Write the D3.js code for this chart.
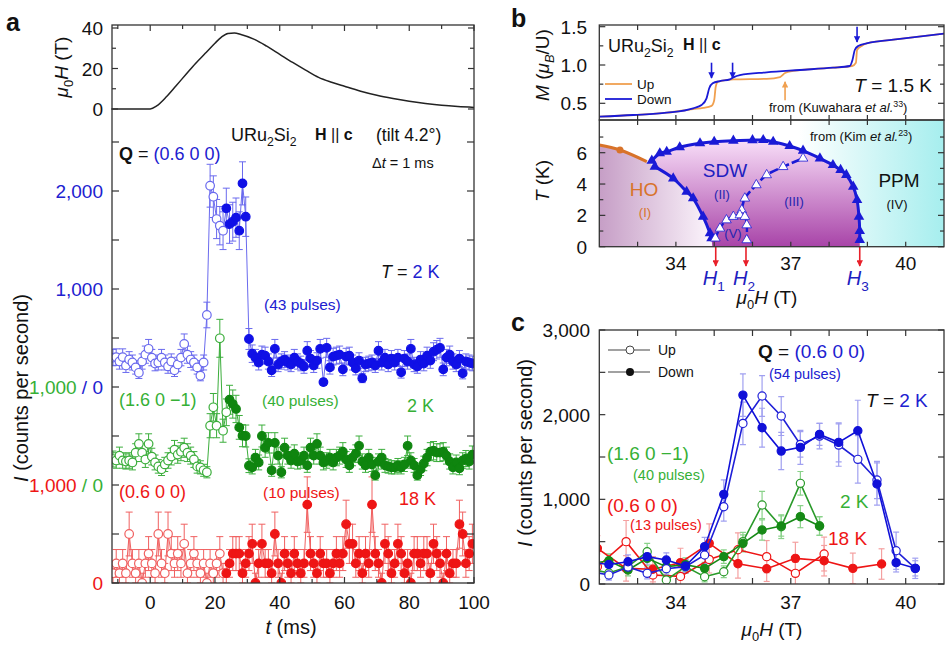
<!DOCTYPE html>
<html lang="en">
<head>
<meta charset="UTF-8" />
<title>URu2Si2 pulsed-field diffraction</title>
<script src="https://cdn.jsdelivr.net/npm/d3@7"></script>
<style>
  body { margin: 0; background: #fff; }
  svg { font-family: "Liberation Sans", Arial, Helvetica, sans-serif; }
</style>
</head>
<body>
<script>
// ---------- panel a : field pulse ----------
var pulseT = [-12, 0, 2, 5, 8, 11, 14, 17, 20, 22, 24, 26, 28, 32, 36, 40, 44, 48, 52, 56, 60, 65, 70, 75, 80, 85, 90, 95, 100];
var pulseH = [0, 0, 1.5, 6, 11.5, 17, 22.5, 27.5, 32.5, 35.5, 37.3, 37.5, 36.8, 34.5, 31, 27, 23, 19.2, 15.6, 13.2, 11.2, 8.8, 6.8, 5.2, 3.8, 2.7, 1.8, 1.2, 0.8];

// ---------- panel a : intensity per 1 ms bin, first bin centred at -11.5 ms ----------
var binStart = -11.5, binMs = 1;
var blueI = [
  300, 305, 260, 305, 220, 280, 250, 200, 145, 260,
  330, 390, 300, 240, 250, 300, 250, 210, 260, 170,
  230, 300, 440, 330, 280, 250, 200, 115, 250, 735,
  2054, 1942, 1714, 1646, 1595, 1823, 1663, 1687, 1728, 1595,
  2078, 1738, 490, 340, 300, 250, 330, 320, 260, 170,
  390, 230, 260, 280, 250, 230, 300, 260, 240, 210,
  370, 290, 220, 270, 390, 50, 400, 200, 310, 320,
  330, 180, 310, 320, 250, 190, 270, 90, 230, 240,
  250, 220, 370, 250, 300, 230, 290, 250, 300, 150,
  290, 260, 390, 230, 210, 280, 240, 320, 270, 360,
  380, 400, 180, 300, 330, 260, 230, 290, 140, 260,
  250, 240];
var greenI = [
  265, 250, 300, 250, 240, 250, 230, 330, 420, 330,
  260, 420, 290, 230, 190, 160, 210, 250, 290, 360,
  310, 340, 380, 330, 300, 260, 190, 180, 150, 130,
  605, 793, 605, 1497, 554, 742, 870, 826, 776, 588,
  503, 500, 197, 180, 280, 230, 500, 380, 430, 150,
  430, 300, 130, 380, 300, 250, 320, 240, 250, 300,
  200, 380, 300, 420, 300, 230, 250, 280, 230, 280,
  300, 340, 260, 200, 280, 320, 400, 240, 200, 280,
  210, 100, 240, 280, 200, 190, 180, 180, 200, 180,
  210, 400, 250, 200, 100, 160, 220, 280, 340, 350,
  330, 330, 340, 300, 240, 180, 230, 170, 250, 270,
  240, 310];
var redI = [
  100, 200, 100, 200, 100, 500, 200, 100, 200, 0,
  200, 300, 200, 100, 500, 200, 100, 500, 300, 200,
  300, 200, 400, 100, 200, 300, 200, 100, 200, 0,
  200, 100, 200, 300, 100, 100, 200, 300, 300, 300,
  100, 200, 300, 400, 0, 200, 400, 200, 200, 100,
  500, 200, 0, 300, 200, 100, 300, 200, 100, 200,
  800, 300, 200, 100, 300, 200, 200, 100, 200, 300,
  200, 300, 600, 400, 400, 200, 300, 100, 300, 200,
  800, 300, 200, 0, 400, 300, 100, 200, 400, 300,
  100, 200, 0, 300, 300, 200, 300, 300, 100, 400,
  300, 200, 0, 300, 100, 200, 200, 600, 500, 200,
  300, 400];
var pulsesA = {blue: 43, green: 40, red: 10};
var lastUpBin = {blue: 34, green: 35, red: 34};

// ---------- panel b : magnetization ----------
var mDownH = [32, 32.89, 33.76, 34.45, 34.67, 34.8, 34.87, 34.96, 35.15, 35.41, 35.5, 35.67, 36.37, 37.24, 38.1, 38.54, 38.61, 38.67, 38.76, 38.98, 39.85, 41.05];
var mDown = [0.325, 0.347, 0.377, 0.435, 0.478, 0.565, 0.696, 0.761, 0.79, 0.813, 0.839, 0.869, 0.904, 0.935, 0.965, 0.987, 1.065, 1.196, 1.248, 1.283, 1.34, 1.413];
var mUpH = [32, 32.89, 33.76, 34.45, 34.71, 34.93, 35.0, 35.04, 35.1, 35.5, 36.37, 36.72, 36.85, 37.06, 38.1, 38.6, 38.7, 38.73, 38.85, 38.98, 39.85, 41.05];
var mUp = [0.325, 0.347, 0.377, 0.425, 0.44, 0.466, 0.54, 0.717, 0.782, 0.812, 0.82, 0.843, 0.895, 0.922, 0.965, 0.987, 1.03, 1.196, 1.248, 1.283, 1.34, 1.413];
var downArrowH = [34.93, 35.48, 38.73];
var downArrowM = [[1.03, 0.83], [1.03, 0.83], [1.5, 1.3]];
var upArrowH = 36.85, upArrowM = [0.54, 0.78];

// ---------- panel b : phase diagram ----------
var hoH = [32, 32.54, 33.24], hoT = [6.49, 6.17, 5.43];
var domeTopH = [33.37, 33.58, 33.76, 34.1, 34.63, 35.0, 35.5, 36.0, 36.28, 36.54, 36.97, 37.32, 37.76, 38.1, 38.3, 38.45, 38.63, 38.73, 38.78, 38.8, 38.8];
var domeTopT = [5.49, 5.96, 6.06, 6.35, 6.6, 6.7, 6.77, 6.8, 6.81, 6.7, 6.43, 6.13, 5.64, 5.21, 4.9, 4.58, 3.83, 2.98, 1.92, 1.0, 0.43];
var domeLeftH = [33.45, 33.93, 34.28, 34.45, 34.71, 34.89, 34.93];
var domeLeftT = [5.11, 4.36, 3.51, 3.09, 1.92, 0.86, 0.54];
var innerH = [35.72, 35.8, 36.1, 36.37, 36.8, 37.32];
var innerT = [2.34, 3.09, 3.94, 4.58, 5.1, 5.64];
var vDomeH = [35.03, 35.15, 35.32, 35.5, 35.67, 35.8, 35.85, 35.85];
var vDomeT = [0.54, 1.17, 1.7, 1.92, 2.02, 1.92, 1.38, 0.43];
var critH = [35.04, 35.83, 38.8];

// ---------- panel c : intensity vs field ----------
var cBH = [31.75, 32.25, 32.75, 33.25, 33.75, 34.25, 34.75, 35.25, 35.75, 36.25, 36.75, 37.25, 37.75, 38.25, 38.75, 39.25, 39.75, 40.25];
var cBlueDown = [260, 230, 263, 323, 283, 212, 441, 1059, 2231, 1846, 1570, 1614, 1767, 1673, 1810, 1181, 252, 185];
var cBlueDownErr = [80, 75, 80, 90, 85, 75, 110, 170, 250, 230, 220, 200, 130, 230, 360, 250, 110, 90];
var cBlueUp = [150, 106, 200, 126, 180, 205, 342, 913, 1897, 2220, 1984, 1649, 1747, 1641, 1472, 1228, 393, 185];
var cBlueUpErr = [70, 60, 75, 65, 70, 75, 100, 170, 250, 240, 230, 150, 150, 250, 280, 220, 220, 120];
var cGH = [31.75, 32.25, 32.75, 33.25, 33.75, 34.25, 34.75, 35.25, 35.75, 36.25, 36.75, 37.25, 37.75];
var cGreenDown = [240, 275, 165, 303, 205, 228, 185, 323, 480, 638, 685, 795, 685];
var cGreenDownErr = [70, 80, 70, 90, 75, 80, 70, 80, 100, 120, 120, 130, 110];
var cGreenUp = [180, 130, 205, 381, 47, 205, 86, 145, 500, 933, 677, 1189, 685];
var cGreenUpErr = [70, 70, 80, 100, 50, 80, 60, 70, 110, 160, 140, 140, 110];
var cRH = [31.95, 32.7, 33.4, 34.12, 34.87, 35.62, 36.37, 37.12, 37.87, 38.62, 39.37];
var cRedDown = [421, 185, 174, 252, 480, 240, 180, 303, 275, 185, 236];
var cRedDownErr = [150, 150, 150, 170, 230, 170, 150, 190, 180, 180, 180];
var cRedUp = [205, 500, 106, 90, 290, 405, 323, 126, 354];
var cRedUpErr = [150, 250, 120, 120, 160, 200, 190, 130, 200];

// ---------- colours ----------
var cBlue = "#1010e6", cBlueLt = "#6a6aee", cBlueTxt = "#2020d0";
var cGreen = "#0f850f", cGreenLt = "#3cae3c", cGreenTxt = "#36b036";
var cRed = "#ee1515", cRedLt = "#f06060";
var cOrange = "#f0a050", cHO = "#d8732a";

var svg = d3.select("body").append("svg").attr("width", 946).attr("height", 645);
var defs = svg.append("defs");

// rich text helper: parts = [{t, c, i, b, sub, sup}]
function rich(g, x, y, parts, size, anchor) {
  var t = g.append("text").attr("x", x).attr("y", y).attr("font-size", size)
    .attr("text-anchor", anchor || "start").attr("fill", "#111");
  var shift = 0;
  parts.forEach(function (p) {
    var s = t.append("tspan").text(p.t);
    if (p.c) s.attr("fill", p.c);
    if (p.i) s.attr("font-style", "italic");
    if (p.b) s.attr("font-weight", "bold");
    var want = p.sub ? size * 0.28 : p.sup ? -size * 0.4 : 0;
    if (p.sub || p.sup) s.attr("font-size", size * 0.68);
    if (want !== shift) { s.attr("dy", want - shift); shift = want; }
  });
  return t;
}
function vlabel(x, y, parts, size) {
  var g = svg.append("g").attr("transform", "translate(" + x + "," + y + ") rotate(-90)");
  rich(g, 0, 0, parts, size, "middle");
}
function ticksX(scale, vals, y, len) {
  svg.append("g").selectAll("line").data(vals).enter().append("line")
    .attr("x1", function (d) { return scale(d); }).attr("x2", function (d) { return scale(d); })
    .attr("y1", y).attr("y2", y + len).attr("stroke", "#333").attr("stroke-width", 1.2);
}
function ticksY(scale, vals, x, len) {
  svg.append("g").selectAll("line").data(vals).enter().append("line")
    .attr("y1", function (d) { return scale(d); }).attr("y2", function (d) { return scale(d); })
    .attr("x1", x).attr("x2", x + len).attr("stroke", "#333").attr("stroke-width", 1.2);
}
function frame(x0, y0, x1, y1) {
  svg.append("rect").attr("x", x0).attr("y", y0).attr("width", x1 - x0).attr("height", y1 - y0)
    .attr("fill", "none").attr("stroke", "#333").attr("stroke-width", 1.3);
}
function clip(id, x0, y0, x1, y1) {
  defs.append("clipPath").attr("id", id).append("rect")
    .attr("x", x0).attr("y", y0).attr("width", x1 - x0).attr("height", y1 - y0);
}
function triangle(g, x, y, s, fill, stroke) {
  g.append("path").attr("d", d3.symbol().type(d3.symbolTriangle).size(s)())
    .attr("transform", "translate(" + x + "," + y + ")").attr("fill", fill)
    .attr("stroke", stroke || "none").attr("stroke-width", 0.8);
}

// =================== PANEL A ===================
var A = {l: 112, r: 474, t: 25, b: 583};
var xA = d3.scaleLinear().domain([-11.8, 100]).range([A.l, A.r]);
var yP = d3.scaleLinear().domain([0, 40]).range([109, 28]);
var yI = d3.scaleLinear().domain([0, 1000]).range([583, 485]);
clip("clipA", A.l, A.t, A.r, A.b);

svg.append("path").datum(d3.range(pulseT.length))
  .attr("d", d3.line().x(function (i) { return xA(pulseT[i]); }).y(function (i) { return yP(pulseH[i]); }).curve(d3.curveMonotoneX))
  .attr("fill", "none").attr("stroke", "#222").attr("stroke-width", 1.5);

var seriesA = [
  {vals: redI, off: 0, n: pulsesA.red, last: lastUpBin.red, fill: cRed, lt: cRedLt},
  {vals: greenI, off: 1000, n: pulsesA.green, last: lastUpBin.green, fill: cGreen, lt: cGreenLt},
  {vals: blueI, off: 2000, n: pulsesA.blue, last: lastUpBin.blue, fill: cBlue, lt: cBlueLt}
];
var gA = svg.append("g").attr("clip-path", "url(#clipA)");
seriesA.forEach(function (s) {
  // counting statistics: error = sqrt(counts) / (pulses * bin width)
  var expo = s.n * binMs / 1000;
  var pts = s.vals.map(function (v, i) {
    return {t: binStart + i * binMs, v: v + s.off, e: Math.sqrt(Math.max(v, 1 / expo) / expo), up: i <= s.last};
  });
  gA.append("path").datum(pts)
    .attr("d", d3.line().x(function (d) { return xA(d.t); }).y(function (d) { return yI(d.v); }))
    .attr("fill", "none").attr("stroke", s.lt).attr("stroke-width", 1);
  var eb = gA.append("g").attr("stroke", s.lt).attr("stroke-width", 1);
  pts.forEach(function (d) {
    var x = xA(d.t), y0 = yI(d.v - d.e), y1 = yI(d.v + d.e);
    eb.append("line").attr("x1", x).attr("x2", x).attr("y1", y0).attr("y2", y1);
    eb.append("line").attr("x1", x - 3.5).attr("x2", x + 3.5).attr("y1", y0).attr("y2", y0);
    eb.append("line").attr("x1", x - 3.5).attr("x2", x + 3.5).attr("y1", y1).attr("y2", y1);
  });
  gA.append("g").selectAll("circle").data(pts).enter().append("circle")
    .attr("cx", function (d) { return xA(d.t); }).attr("cy", function (d) { return yI(d.v); })
    .attr("r", 4.3)
    .attr("fill", function (d) { return d.up ? "#fff" : s.fill; })
    .attr("stroke", function (d) { return d.up ? s.lt : s.fill; })
    .attr("stroke-width", 1.2);
});

frame(A.l, A.t, A.r, A.b);
var tMaj = [0, 20, 40, 60, 80, 100], tMin = [-10, 10, 30, 50, 70, 90];
ticksX(xA, tMaj, A.b, -6); ticksX(xA, tMin, A.b, -4);
ticksX(xA, tMaj, A.t, 6); ticksX(xA, tMin, A.t, 4);
ticksY(yP, [0, 20, 40], A.l, 6); ticksY(yP, [10, 30], A.l, 4);
ticksY(yP, [0, 20, 40], A.r, -6); ticksY(yP, [10, 30], A.r, -4);
var cntTicks = d3.range(0, 4501, 500);
ticksY(yI, cntTicks, A.l, 7); ticksY(yI, cntTicks, A.r, -7);

svg.append("g").selectAll("text").data(tMaj).enter().append("text")
  .attr("x", function (d) { return xA(d); }).attr("y", 609).attr("text-anchor", "middle")
  .attr("font-size", 19).attr("fill", "#111").text(function (d) { return d; });
svg.append("g").selectAll("text").data([0, 20, 40]).enter().append("text")
  .attr("x", 103).attr("y", function (d) { return yP(d) + 7; }).attr("text-anchor", "end")
  .attr("font-size", 19).attr("fill", "#111").text(function (d) { return d; });
var cntLabels = [
  {v: 0, parts: [{t: "0", c: cRed}]},
  {v: 1000, parts: [{t: "1,000", c: cRed}, {t: " / 0", c: cGreenTxt}]},
  {v: 2000, parts: [{t: "1,000", c: cGreenTxt}, {t: " / 0", c: cBlueTxt}]},
  {v: 3000, parts: [{t: "1,000", c: cBlueTxt}]},
  {v: 4000, parts: [{t: "2,000", c: cBlueTxt}]}
];
cntLabels.forEach(function (d) { rich(svg, 103, yI(d.v) + 7, d.parts, 19, "end"); });

rich(svg, 6, 31, [{t: "a", b: true}], 25);
vlabel(68, 67, [{t: "μ", i: true}, {t: "0", sub: true}, {t: "H", i: true}, {t: " (T)"}], 19);
vlabel(28, 388, [{t: "I", i: true}, {t: " (counts per second)"}], 20);
rich(svg, 291, 634, [{t: "t", i: true}, {t: " (ms)"}], 20, "middle");

rich(svg, 231, 141, [{t: "URu"}, {t: "2", sub: true}, {t: "Si"}, {t: "2", sub: true}], 18);
rich(svg, 315, 140, [{t: "H", b: true}, {t: " || "}, {t: "c", b: true}], 16);
rich(svg, 376, 141, [{t: "(tilt 4.2°)"}], 17.5);
rich(svg, 372, 168, [{t: "Δ"}, {t: "t", i: true}, {t: " = 1 ms"}], 14.5);
rich(svg, 119, 160, [{t: "Q", b: true}, {t: " = "}, {t: "(0.6 0 0)", c: cBlueTxt}], 18);
rich(svg, 381, 278, [{t: "T", i: true}, {t: " = "}, {t: "2 K", c: cBlueTxt}], 18);
rich(svg, 264, 310, [{t: "(43 pulses)", c: cBlueTxt}], 15.5);
rich(svg, 119, 406, [{t: "(1.6 0 \u22121)", c: cGreenTxt}], 18);
rich(svg, 262, 406, [{t: "(40 pulses)", c: cGreenTxt}], 15.5);
rich(svg, 407, 412, [{t: "2 K", c: cGreenTxt}], 18);
rich(svg, 119, 498, [{t: "(0.6 0 0)", c: cRed}], 18);
rich(svg, 263, 498, [{t: "(10 pulses)", c: cRed}], 15.5);
rich(svg, 399, 505, [{t: "18 K", c: cRed}], 18);

// =================== PANEL B ===================
var B = {l: 599.3, r: 944, t: 25, m: 120, b: 246.7};
var xB = d3.scaleLinear().domain([32, 41]).range([B.l, B.r]);
var yM = d3.scaleLinear().domain([0.5, 1.5]).range([103.3, 26.7]);
var yT = d3.scaleLinear().domain([0, 6]).range([246.7, 152.7]);
clip("clipBm", B.l, B.t, B.r, B.m);
clip("clipBt", B.l, B.m, B.r, B.b);

// backgrounds
var bgGrad = defs.append("linearGradient").attr("id", "bgGrad").attr("gradientUnits", "userSpaceOnUse")
  .attr("x1", xB(37.2)).attr("x2", xB(41)).attr("y1", 0).attr("y2", 0);
bgGrad.append("stop").attr("offset", 0).attr("stop-color", "#ffffff");
bgGrad.append("stop").attr("offset", 1).attr("stop-color", "#a6eeee");
var hoGrad = defs.append("linearGradient").attr("id", "hoGrad").attr("gradientUnits", "userSpaceOnUse")
  .attr("x1", xB(32)).attr("x2", xB(34.9)).attr("y1", 0).attr("y2", 0);
hoGrad.append("stop").attr("offset", 0).attr("stop-color", "#c69ec6");
hoGrad.append("stop").attr("offset", 1).attr("stop-color", "#fbf4fb");
var domeGrad = defs.append("linearGradient").attr("id", "domeGrad").attr("gradientUnits", "userSpaceOnUse")
  .attr("x1", 0).attr("x2", 0).attr("y1", yT(6.8)).attr("y2", yT(0));
domeGrad.append("stop").attr("offset", 0).attr("stop-color", "#f8def8");
domeGrad.append("stop").attr("offset", 1).attr("stop-color", "#a844a8");

var gB = svg.append("g").attr("clip-path", "url(#clipBt)");
gB.append("rect").attr("x", B.l).attr("y", B.m).attr("width", B.r - B.l).attr("height", B.b - B.m).attr("fill", "url(#bgGrad)");
var toXY = function (h, t) { return [xB(h), yT(t)]; };
var hoPoly = [toXY(32, 0)].concat(hoH.map(function (h, i) { return toXY(h, hoT[i]); }))
  .concat(domeLeftH.map(function (h, i) { return toXY(h, domeLeftT[i]); })).concat([toXY(34.95, 0)]);
gB.append("path").attr("d", d3.line()(hoPoly) + "Z").attr("fill", "url(#hoGrad)");
var domePoly = domeTopH.map(function (h, i) { return toXY(h, domeTopT[i]); })
  .concat([toXY(38.8, 0), toXY(34.95, 0)])
  .concat(domeLeftH.map(function (h, i) { return toXY(h, domeLeftT[i]); }).reverse());
gB.append("path").attr("d", d3.line()(domePoly) + "Z").attr("fill", "url(#domeGrad)");

function phaseLine(H, T, color, w, dash) {
  var pts = H.map(function (h, i) { return toXY(h, T[i]); });
  var p = gB.append("path").attr("d", d3.line().curve(d3.curveCatmullRom)(pts))
    .attr("fill", "none").attr("stroke", color).attr("stroke-width", w);
  if (dash) p.attr("stroke-dasharray", dash);
  return pts;
}
var pHO = phaseLine(hoH, hoT, cHO, 3);
gB.append("circle").attr("cx", pHO[1][0]).attr("cy", pHO[1][1]).attr("r", 3.5).attr("fill", cHO);
var pTop = phaseLine(domeTopH, domeTopT, "#1a1ad6", 3);
var pLeft = phaseLine(domeLeftH, domeLeftT, "#1a1ad6", 3);
var pIn = phaseLine(innerH, innerT, "#1a1ad6", 2.6, "9,3");
var pV = phaseLine(vDomeH, vDomeT, "#1a1ad6", 2.4, "7,3");
pTop.concat(pLeft).forEach(function (p) { triangle(gB, p[0], p[1], 48, "#1a1ad6"); });
pIn.concat(pV).forEach(function (p) { triangle(gB, p[0], p[1], 40, "#fff", "#1a1ad6"); });

rich(svg, 810, 141, [{t: "from (Kim "}, {t: "et al.", i: true}, {t: "23", sup: true}, {t: ")"}], 13);
rich(svg, 644, 196, [{t: "HO", c: cHO}], 19, "middle");
rich(svg, 645, 217, [{t: "(I)", c: cHO}], 13, "middle");
rich(svg, 725, 177, [{t: "SDW", c: "#2020c0"}], 19, "middle");
rich(svg, 722, 199, [{t: "(II)", c: "#2424b0"}], 13, "middle");
rich(svg, 794, 206, [{t: "(III)", c: "#2424b0"}], 13, "middle");
rich(svg, 733, 238, [{t: "(V)", c: "#2424b0"}], 13, "middle");
rich(svg, 899, 187, [{t: "PPM"}], 19, "middle");
rich(svg, 897, 209, [{t: "(IV)"}], 13, "middle");

// critical field arrows
defs.append("marker").attr("id", "redHead").attr("viewBox", "0 0 10 10").attr("refX", 9).attr("refY", 5)
  .attr("markerWidth", 4).attr("markerHeight", 4).attr("orient", "auto")
  .append("path").attr("d", "M0,0 L10,5 L0,10 Z").attr("fill", "#e8202a");
critH.forEach(function (h, i) {
  svg.append("line").attr("x1", xB(h)).attr("x2", xB(h)).attr("y1", B.b).attr("y2", 266)
    .attr("stroke", "#e8202a").attr("stroke-width", 1.6).attr("marker-end", "url(#redHead)");
  rich(svg, xB(h) - 2, 285, [{t: "H", i: true, c: "#2020c0"}, {t: String(i + 1), sub: true, c: "#2020c0"}], 20, "middle");
});

// magnetization curves
var gBm = svg.append("g").attr("clip-path", "url(#clipBm)");
var mLine = d3.line().curve(d3.curveMonotoneX);
gBm.append("path").attr("d", mLine(mUpH.map(function (h, i) { return [xB(h), yM(mUp[i])]; })))
  .attr("fill", "none").attr("stroke", cOrange).attr("stroke-width", 1.8);
gBm.append("path").attr("d", mLine(mDownH.map(function (h, i) { return [xB(h), yM(mDown[i])]; })))
  .attr("fill", "none").attr("stroke", "#1a1ad6").attr("stroke-width", 1.8);

defs.append("marker").attr("id", "blueHead").attr("viewBox", "0 0 10 10").attr("refX", 9).attr("refY", 5)
  .attr("markerWidth", 4).attr("markerHeight", 4).attr("orient", "auto")
  .append("path").attr("d", "M0,0 L10,5 L0,10 Z").attr("fill", "#1a1ad6");
defs.append("marker").attr("id", "orHead").attr("viewBox", "0 0 10 10").attr("refX", 9).attr("refY", 5)
  .attr("markerWidth", 4).attr("markerHeight", 4).attr("orient", "auto")
  .append("path").attr("d", "M0,0 L10,5 L0,10 Z").attr("fill", cOrange);
downArrowH.forEach(function (h, i) {
  svg.append("line").attr("x1", xB(h)).attr("x2", xB(h))
    .attr("y1", yM(downArrowM[i][0])).attr("y2", yM(downArrowM[i][1]))
    .attr("stroke", "#1a1ad6").attr("stroke-width", 1.6).attr("marker-end", "url(#blueHead)");
});
svg.append("line").attr("x1", xB(upArrowH)).attr("x2", xB(upArrowH))
  .attr("y1", yM(upArrowM[0])).attr("y2", yM(upArrowM[1]))
  .attr("stroke", cOrange).attr("stroke-width", 1.6).attr("marker-end", "url(#orHead)");

// legend in M panel
svg.append("line").attr("x1", 605).attr("x2", 632).attr("y1", 84).attr("y2", 84).attr("stroke", cOrange).attr("stroke-width", 1.8);
svg.append("line").attr("x1", 605).attr("x2", 632).attr("y1", 99).attr("y2", 99).attr("stroke", "#1a1ad6").attr("stroke-width", 1.8);
rich(svg, 637, 88.5, [{t: "Up"}], 13.5);
rich(svg, 637, 103.5, [{t: "Down"}], 13.5);
rich(svg, 608, 52, [{t: "URu"}, {t: "2", sub: true}, {t: "Si"}, {t: "2", sub: true}], 18);
rich(svg, 683, 50, [{t: "H", b: true}, {t: " || "}, {t: "c", b: true}], 16);
rich(svg, 932, 92, [{t: "T", i: true}, {t: " = 1.5 K"}], 19, "end");
rich(svg, 769, 112, [{t: "from (Kuwahara "}, {t: "et al.", i: true}, {t: "33", sup: true}, {t: ")"}], 13);

frame(B.l, B.t, B.r, B.m);
frame(B.l, B.m, B.r, B.b);
var hInt = d3.range(33, 41);
ticksX(xB, hInt, B.t, 5); ticksX(xB, hInt, B.m, -5); ticksX(xB, hInt, B.m, 5); ticksX(xB, hInt, B.b, -5);
ticksY(yM, [0.5, 1.0, 1.5], B.l, 6); ticksY(yM, [0.75, 1.25], B.l, 4);
ticksY(yM, [0.5, 1.0, 1.5], B.r, -6); ticksY(yM, [0.75, 1.25], B.r, -4);
ticksY(yT, [0, 2, 4, 6], B.l, 6); ticksY(yT, [1, 3, 5, 7], B.l, 4);
ticksY(yT, [0, 2, 4, 6], B.r, -6); ticksY(yT, [1, 3, 5, 7], B.r, -4);
[0.5, 1.0, 1.5].forEach(function (d) { rich(svg, 587, yM(d) + 7, [{t: d.toFixed(1)}], 19, "end"); });
[0, 2, 4, 6].forEach(function (d) { rich(svg, 587, yT(d) + 7, [{t: String(d)}], 19, "end"); });
[34, 37, 40].forEach(function (d) { rich(svg, xB(d), 270, [{t: String(d)}], 19, "middle"); });
rich(svg, 511, 27, [{t: "b", b: true}], 25);
vlabel(549, 65, [{t: "M", i: true}, {t: " ("}, {t: "μ", i: true}, {t: "B", i: true, sub: true}, {t: "/U)"}], 19);
vlabel(549, 181, [{t: "T", i: true}, {t: " (K)"}], 19);
rich(svg, 767, 304, [{t: "μ", i: true}, {t: "0", sub: true}, {t: "H", i: true}, {t: " (T)"}], 19, "middle");

// =================== PANEL C ===================
var C = {l: 599.3, r: 944, t: 330, b: 584};
var xC = d3.scaleLinear().domain([32, 41]).range([C.l, C.r]);
var yC = d3.scaleLinear().domain([0, 3000]).range([C.b, C.t]);
clip("clipC", C.l, C.t, C.r, C.b);
var gC = svg.append("g").attr("clip-path", "url(#clipC)");
var seriesC = [
  {H: cRH, v: cRedUp, e: cRedUpErr, up: true, col: cRed, err: "#f4a0a0"},
  {H: cRH, v: cRedDown, e: cRedDownErr, up: false, col: cRed, err: "#f4a0a0"},
  {H: cGH, v: cGreenUp, e: cGreenUpErr, up: true, col: "#2a9a2a", err: "#8ad28a"},
  {H: cGH, v: cGreenDown, e: cGreenDownErr, up: false, col: "#168a16", err: "#8ad28a"},
  {H: cBH, v: cBlueUp, e: cBlueUpErr, up: true, col: "#2020d8", err: "#a0a0f0"},
  {H: cBH, v: cBlueDown, e: cBlueDownErr, up: false, col: "#1010d8", err: "#a0a0f0"}
];
seriesC.forEach(function (s) {
  var pts = s.v.map(function (v, i) { return {h: s.H[i], v: v, e: s.e[i]}; });
  var eb = gC.append("g").attr("stroke", s.err).attr("stroke-width", 1.2);
  pts.forEach(function (d) {
    var x = xC(d.h), y0 = yC(d.v - d.e), y1 = yC(d.v + d.e);
    eb.append("line").attr("x1", x).attr("x2", x).attr("y1", y0).attr("y2", y1);
    eb.append("line").attr("x1", x - 3).attr("x2", x + 3).attr("y1", y0).attr("y2", y0);
    eb.append("line").attr("x1", x - 3).attr("x2", x + 3).attr("y1", y1).attr("y2", y1);
  });
});
seriesC.forEach(function (s) {
  var pts = s.v.map(function (v, i) { return {h: s.H[i], v: v}; });
  gC.append("path").datum(pts)
    .attr("d", d3.line().x(function (d) { return xC(d.h); }).y(function (d) { return yC(d.v); }))
    .attr("fill", "none").attr("stroke", s.col).attr("stroke-width", 1.6);
  gC.append("g").selectAll("circle").data(pts).enter().append("circle")
    .attr("cx", function (d) { return xC(d.h); }).attr("cy", function (d) { return yC(d.v); })
    .attr("r", 4.1).attr("fill", s.up ? "#fff" : s.col).attr("stroke", s.col).attr("stroke-width", 1.2);
});
frame(C.l, C.t, C.r, C.b);
ticksX(xC, d3.range(33, 41), C.b, -6); ticksX(xC, d3.range(33, 41), C.t, 6);
ticksY(yC, d3.range(0, 3001, 500), C.l, 6); ticksY(yC, d3.range(0, 3001, 500), C.r, -6);
[0, 1000, 2000, 3000].forEach(function (d) { rich(svg, 590, yC(d) + 7, [{t: d3.format(",")(d)}], 19, "end"); });
[34, 37, 40].forEach(function (d) { rich(svg, xC(d), 609, [{t: String(d)}], 19, "middle"); });
rich(svg, 511, 331, [{t: "c", b: true}], 25);
vlabel(532, 453, [{t: "I", i: true}, {t: " (counts per second)"}], 20);
rich(svg, 772, 636, [{t: "μ", i: true}, {t: "0", sub: true}, {t: "H", i: true}, {t: " (T)"}], 19, "middle");

// legend
svg.append("line").attr("x1", 608).attr("x2", 650).attr("y1", 350).attr("y2", 350).attr("stroke", "#444").attr("stroke-width", 1.2);
svg.append("circle").attr("cx", 630).attr("cy", 350).attr("r", 4).attr("fill", "#fff").attr("stroke", "#444");
svg.append("line").attr("x1", 608).attr("x2", 650).attr("y1", 372).attr("y2", 372).attr("stroke", "#444").attr("stroke-width", 1.2);
svg.append("circle").attr("cx", 630).attr("cy", 372).attr("r", 4).attr("fill", "#111");
rich(svg, 658, 355, [{t: "Up"}], 14);
rich(svg, 658, 377, [{t: "Down"}], 14);

rich(svg, 758, 358, [{t: "Q", b: true}, {t: " = "}, {t: "(0.6 0 0)", c: cBlueTxt}], 19);
rich(svg, 769, 379, [{t: "(54 pulses)", c: cBlueTxt}], 14.5);
rich(svg, 866, 407, [{t: "T", i: true}, {t: " = "}, {t: "2 K", c: cBlueTxt}], 19);
rich(svg, 607, 460, [{t: "(1.6 0 \u22121)", c: cGreenTxt}], 19);
rich(svg, 633, 480, [{t: "(40 pulses)", c: cGreenTxt}], 14.5);
rich(svg, 840, 508, [{t: "2 K", c: cGreenTxt}], 19);
rich(svg, 607, 512, [{t: "(0.6 0 0)", c: cRed}], 19);
rich(svg, 630, 530, [{t: "(13 pulses)", c: cRed}], 14.5);
rich(svg, 828, 545, [{t: "18 K", c: cRed}], 19);
</script>
</body>
</html>
